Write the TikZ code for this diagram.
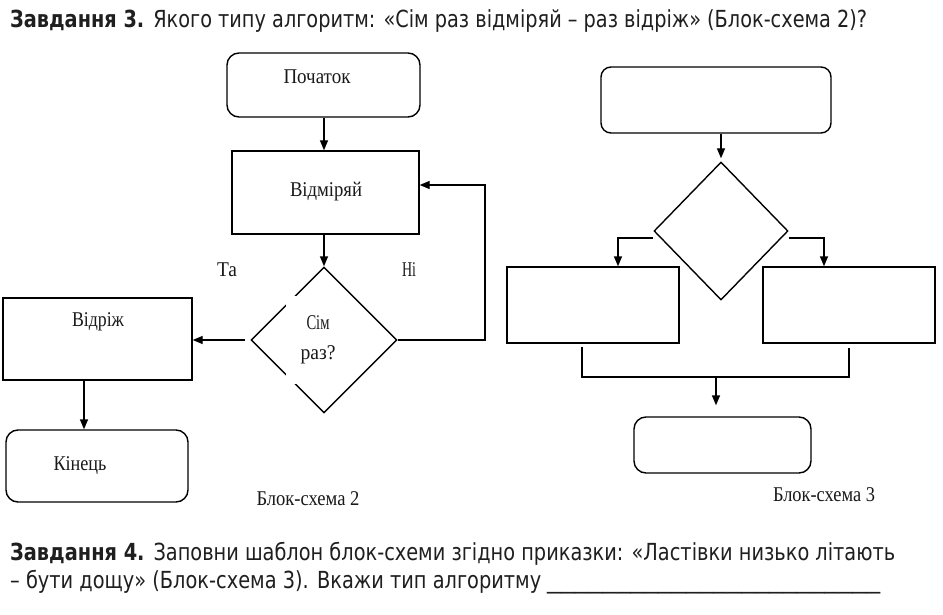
\documentclass[tikz,border=0pt]{standalone}
\usepackage{fontspec}
\usepackage{graphicx}
\setmainfont{Liberation Serif}
\newfontfamily\hfont{DejaVu Sans}
\usetikzlibrary{shapes.geometric,arrows.meta,calc}
\newsavebox\fitbox
\newcommand\fitto[2]{\sbox\fitbox{#2}\pgfmathsetmacro\fitfac{#1/\the\wd\fitbox}\scalebox{\fitfac}[1]{\usebox\fitbox}}
\begin{document}
\begin{tikzpicture}[x=1pt,y=-1pt,
  box/.style={draw, line width=1.4pt, rectangle, inner sep=0pt},
  term/.style={box, rounded corners=12pt},
  dia/.style={draw, line width=1.4pt, diamond, inner sep=0pt, aspect=1},
  line/.style={line width=1.4pt},
  arr/.style={line, -{Triangle[length=10pt,width=8pt]}},
  lbl/.style={font=\fontsize{21}{24}\selectfont, inner sep=0pt, text=black!90},
  hd/.style={font=\hfont\fontsize{23.5}{28}\selectfont, inner sep=0pt, text=black!88}]
\useasboundingbox (0,0) rectangle (943,615);
\fill[white] (0,0) rectangle (943,615);

% heading and task text
\node[hd, anchor=base west] (h1) at (10,28) {\fitto{857pt}{\bfseries Завдання 3. \mdseries Якого типу алгоритм: «Сім раз відміряй – раз відріж» (Блок-схема 2)?}};
\node[hd, anchor=base west] (t1) at (10,560) {\fitto{885pt}{\bfseries Завдання 4. \mdseries Заповни шаблон блок-схеми згідно приказки: «Ластівки низько літають}};
\node[hd, anchor=base west] (t2) at (10,588) {\fitto{531pt}{– бути дощу» (Блок-схема 3). Вкажи тип алгоритму}};
\node[hd, anchor=base west] (t3) at (547,588) {\fitto{333pt}{\_\_\_\_\_\_\_\_\_\_\_\_\_\_\_\_\_\_\_\_\_\_\_\_}};

% Block-scheme 2
\node[term, minimum width=193pt, minimum height=64pt] (start) at (323.5,85) {};
\node[lbl] (starttxt) at (317,77) {\fitto{67pt}{Початок}};
\node[box, minimum width=187pt, minimum height=83pt] (measure) at (325.5,192.5) {};
\node[lbl] (measuretxt) at (326,192) {\fitto{72pt}{Відміряй}};
\node[dia, minimum width=146pt, minimum height=146pt] (dec) at (324,340) {};
\node[lbl, fill=white, minimum width=64pt, minimum height=88pt, align=center] (dectxt) at (318,340)
  {\fitto{23pt}{Сім}\\[6pt]\fitto{35pt}{раз?}};
\node[box, minimum width=189pt, minimum height=82pt] (cut) at (97.5,339) {};
\node[lbl] (cuttxt) at (98,322) {\fitto{52pt}{Відріж}};
\node[term, minimum width=182pt, minimum height=72pt] (end) at (97,466) {};
\node[lbl] (endtxt) at (80,466) {\fitto{53pt}{Кінець}};
\node[lbl] (yes) at (227,270) {\fitto{20pt}{Та}};
\node[lbl] (no) at (409,270) {\fitto{14pt}{Ні}};
\node[lbl] (cap2) at (308,499) {\fitto{103pt}{Блок-схема 2}};

\coordinate (fb) at (485,185);
\coordinate (c84) at (84,0);
\draw[arr] (start.south -| dec.north) -- (dec.north |- measure.north);
\draw[arr] (dec.north |- measure.south) -- (dec.north);
\draw[arr] (dec.east) -| (fb) -- (fb -| measure.east);
\draw[arr, shorten <=5pt] (dec.west) -- (cut.east |- dec.west);
\draw[arr] (c84 |- cut.south) -- (c84 |- end.north);

% Block-scheme 3
\node[term, rounded corners=10pt, minimum width=230pt, minimum height=66pt] (top3) at (716,100) {};
\node[dia, minimum width=134pt, minimum height=138pt] (dec3) at (721,231) {};
\node[box, minimum width=172pt, minimum height=76pt] (left3) at (593,305) {};
\node[box, minimum width=172pt, minimum height=76pt] (right3) at (849,305) {};
\node[term, minimum width=177pt, minimum height=56pt] (bot3) at (722.5,445) {};
\node[lbl] (cap3) at (824,495) {\fitto{102pt}{Блок-схема 3}};
\coordinate (mrg) at (716,377);

\draw[arr, shorten >=3pt] (dec3.north |- top3.south) -- (dec3.north);
\draw[arr] ([yshift=-7pt]dec3.west) -| ([xshift=25pt]left3.north);
\draw[arr] ([yshift=-7pt]dec3.east) -| ([xshift=-25pt]right3.north);
\draw[line] ([xshift=-11pt,yshift=-3pt]left3.south) |- (mrg) -| ([yshift=-4pt]right3.south);
\draw[arr, shorten >=11pt] (mrg) -- (mrg |- bot3.north);
\end{tikzpicture}
\end{document}
